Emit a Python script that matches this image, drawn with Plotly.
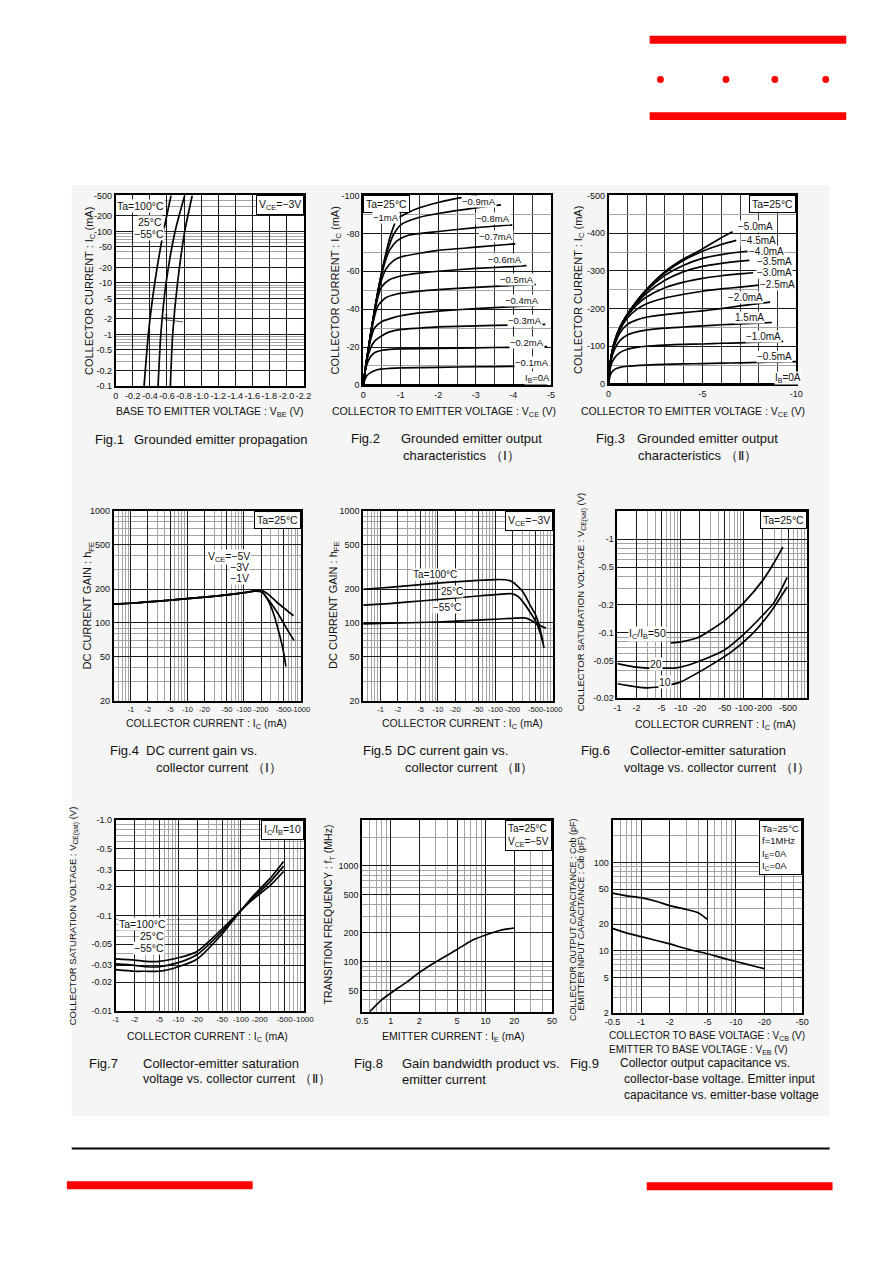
import math
import plotly.graph_objects as go

# page is 892x1263; the browser body keeps an 8px margin, so the figure is kept a
# little smaller than the window and every page position is shifted by that margin
OFF = 8
FW, FH = 860, 1220
FONT = 'Liberation Sans, Arial, sans-serif'
INK = '#111111'

# ---------------- data (magnitudes; the device is PNP, labels carry the sign) ----------------

# Fig.1  grounded emitter propagation : -IC (mA) vs -VBE (V)
F1_IC = [0.1, 1, 10, 100, 500]
F1_VBE_100 = [0.332, 0.382, 0.457, 0.560, 0.648]
F1_VBE_25 = [0.496, 0.528, 0.590, 0.695, 0.808]
F1_VBE_M55 = [0.640, 0.667, 0.724, 0.808, 0.896]

# Fig.2  output characteristics (I) : IB -> (-VCE V, -IC mA)
F2_CURVES = {
    '0mA': ([0, 4.9], [0, 0]),
    '0.1mA': ([0, 0.05, 0.1, 0.2, 0.3, 0.45, 0.7, 1, 2, 3, 4, 4.9],
              [0, 3, 5, 6.5, 7.5, 8.3, 8.7, 9, 9.3, 9.6, 9.8, 10]),
    '0.2mA': ([0, 0.05, 0.1, 0.2, 0.3, 0.5, 0.7, 1, 2, 3, 4, 4.9],
              [0, 7, 11, 15, 17, 18.3, 18.8, 19, 19.3, 19.6, 19.9, 20.2]),
    '0.3mA': ([0, 0.1, 0.2, 0.3, 0.5, 0.7, 1, 1.5, 2, 3, 4, 4.85],
              [0, 13, 19.5, 23, 26, 28, 29.3, 30, 30.6, 31.2, 31.6, 32]),
    '0.4mA': ([0, 0.1, 0.2, 0.3, 0.5, 0.8, 1, 1.5, 2, 3, 4, 4.65],
              [0, 14, 24, 30, 33.5, 35.5, 36.5, 38, 39, 40.3, 41.3, 42]),
    '0.5mA': ([0, 0.1, 0.2, 0.3, 0.4, 0.6, 0.9, 1.5, 2, 3, 4, 4.6],
              [0, 14, 26, 36, 42, 46, 48, 49.5, 50.3, 51.5, 52.5, 53]),
    '0.6mA': ([0, 0.1, 0.2, 0.3, 0.4, 0.5, 0.7, 1, 1.5, 2, 3, 4, 4.35],
              [0, 14, 27, 38, 47, 52, 55.5, 57.5, 59, 60, 61.5, 62.5, 63]),
    '0.7mA': ([0, 0.1, 0.2, 0.3, 0.4, 0.5, 0.6, 0.8, 1, 1.5, 2, 3, 4.05],
              [0, 14, 27, 39, 49, 56, 61, 65.5, 67.5, 69.5, 71, 72.7, 74.5]),
    '0.8mA': ([0, 0.1, 0.2, 0.3, 0.4, 0.5, 0.6, 0.7, 0.9, 1.2, 2, 3, 3.97],
              [0, 14, 27, 39, 50, 59, 66, 71, 76, 79, 81, 83, 84.5]),
    '0.9mA': ([0, 0.1, 0.2, 0.3, 0.4, 0.5, 0.6, 0.7, 0.8, 1, 1.5, 2, 3, 3.67],
              [0, 14, 27, 39, 50, 60, 68, 74, 79, 84.5, 88.5, 90.5, 93.5, 95]),
    '1mA': ([0, 0.1, 0.2, 0.3, 0.4, 0.5, 0.6, 0.7, 0.8, 0.9, 1.2, 1.5, 2, 2.5, 3.06],
            [0, 14, 27, 39, 50, 60, 69, 77, 83, 87.5, 91, 93.5, 96.3, 98.5, 100]),
}

# Fig.3  output characteristics (II) : IB -> (-VCE V, -IC mA)
F3_CURVES = {
    '0mA': ([0, 10], [0, 0]),
    '0.5mA': ([0, 0.1, 0.3, 0.6, 1, 2, 3, 4, 5, 6, 7, 8, 9, 10],
              [0, 25, 38, 44, 47, 50, 52, 53, 54, 55, 56, 57, 58, 59]),
    '1.0mA': ([0, 0.1, 0.3, 0.6, 1, 1.5, 2, 3, 4, 5, 6, 7, 8, 9.3],
              [0, 45, 68, 83, 92, 97, 100, 103, 105, 106, 108, 109, 111, 113]),
    '1.5mA': ([0, 0.1, 0.3, 0.6, 1, 1.5, 2, 3, 4, 5, 6, 7, 8.7],
              [0, 55, 90, 115, 130, 138, 143, 148, 151, 154, 157, 159, 163]),
    '2.0mA': ([0, 0.1, 0.3, 0.6, 1, 1.5, 2, 3, 4, 5, 6, 7, 8.6],
              [0, 58, 100, 135, 158, 170, 177, 184, 189, 194, 200, 207, 217]),
    '2.5mA': ([0, 0.1, 0.3, 0.6, 1, 1.5, 2, 3, 4, 5, 6, 7, 8],
              [0, 59, 105, 143, 175, 198, 212, 228, 238, 246, 252, 257, 262]),
    '3.0mA': ([0, 0.1, 0.3, 0.6, 1, 1.5, 2, 3, 4, 5, 6, 7, 7.7],
              [0, 60, 108, 147, 180, 210, 230, 255, 270, 280, 287, 292, 295]),
    '3.5mA': ([0, 0.1, 0.3, 0.6, 1, 1.5, 2, 3, 4, 5, 6, 7, 7.5],
              [0, 60, 109, 149, 183, 215, 240, 275, 298, 312, 320, 326, 328]),
    '4.0mA': ([0, 0.1, 0.3, 0.6, 1, 1.5, 2, 3, 4, 5, 6, 7, 7.4],
              [0, 60, 110, 150, 185, 218, 246, 288, 315, 333, 343, 350, 352]),
    '4.5mA': ([0, 0.1, 0.3, 0.6, 1, 1.5, 2, 3, 4, 5, 6, 6.8],
              [0, 60, 110, 150, 185, 220, 249, 295, 328, 352, 370, 381]),
    '5.0mA': ([0, 0.1, 0.3, 0.6, 1, 1.5, 2, 3, 4, 5, 6, 6.6],
              [0, 60, 110, 150, 185, 220, 250, 298, 332, 358, 388, 404]),
}

# Fig.4  hFE vs -IC (mA), Ta=25C, common low-current part + per-VCE tails
F4_IC_COMMON = [0.5, 1, 2, 5, 10, 20, 50, 100, 150]
F4_HFE_COMMON = [147, 150, 154, 160, 165, 170, 178, 186, 192]
F4_TAILS = {
    '-5V': ([200, 250, 300, 400, 500, 600, 750], [196, 185, 172, 150, 137, 127, 116]),
    '-3V': ([200, 250, 300, 400, 500, 600, 765], [194, 168, 150, 121, 100, 85, 70]),
    '-1V': ([200, 250, 300, 350, 400, 450, 500, 550], [190, 170, 140, 112, 88, 70, 55, 41]),
}

# Fig.5  hFE vs -IC (mA), VCE=-3V
F5_IC_100 = [0.5, 1, 2, 5, 10, 20, 50, 100, 150, 200, 300, 400, 500, 600, 700]
F5_HFE_100 = [200, 205, 211, 220, 227, 233, 240, 244, 243, 232, 190, 145, 118, 88, 60]
F5_IC_25 = [0.5, 1, 2, 5, 10, 20, 50, 100, 200, 250, 300, 400, 500, 600, 665]
F5_HFE_25 = [144, 147, 151, 157, 162, 167, 174, 179, 182, 172, 155, 125, 104, 82, 68]
F5_IC_M55 = [0.5, 1, 10, 50, 100, 200, 320, 400, 500, 600, 760]
F5_HFE_M55 = [98, 99, 102, 106, 108, 110, 111, 107, 100, 95, 90]

# Fig.6  -VCE(sat) (V) vs -IC (mA), Ta=25C
F6_IC_50 = [7, 10, 20, 50, 100, 200, 300, 414]
F6_V_50 = [0.078, 0.080, 0.091, 0.136, 0.21, 0.365, 0.56, 0.82]
F6_IC_20 = [1, 2, 3, 5, 8, 10, 20, 50, 100, 200, 300, 484]
F6_V_20 = [0.047, 0.043, 0.042, 0.042, 0.042, 0.043, 0.05, 0.066, 0.097, 0.155, 0.21, 0.39]
F6_IC_10 = [1, 2, 3, 6, 10, 25, 64, 131, 267, 484]
F6_V_10 = [0.0286, 0.0265, 0.0259, 0.0274, 0.030, 0.042, 0.063, 0.095, 0.168, 0.308]

# Fig.7  -VCE(sat) (V) vs -IC (mA), IC/IB=10
F7_IC = [1, 2, 3, 5, 10, 20, 50, 80, 150, 300, 480]
F7_V_M55 = [0.035, 0.034, 0.033, 0.033, 0.036, 0.042, 0.072, 0.098, 0.145, 0.21, 0.29]
F7_V_25 = [0.031, 0.030, 0.029, 0.029, 0.032, 0.039, 0.068, 0.096, 0.15, 0.23, 0.33]
F7_V_100 = [0.027, 0.026, 0.026, 0.026, 0.029, 0.035, 0.064, 0.094, 0.155, 0.25, 0.37]

# Fig.8  fT (MHz) vs IE (mA)
F8_IE = [0.6, 0.8, 1, 1.5, 2, 3, 5, 7, 10, 14, 20]
F8_FT = [30, 40, 47, 62, 77, 100, 134, 165, 190, 212, 225]

# Fig.9  Cob / Cib (pF) vs -VCB / -VEB (V)
F9_V_COB = [0.5, 0.7, 1, 1.5, 2, 3, 4, 5]
F9_COB = [45, 42, 40, 36, 32.5, 29.5, 27, 22.7]
F9_V_CIB = [0.5, 0.7, 1, 2, 3, 5, 7, 10, 15, 20]
F9_CIB = [18, 16, 14.5, 12, 10.6, 9.3, 8.4, 7.6, 6.8, 6.3]

# tick labels
F1_XT = [0, 0.2, 0.4, 0.6, 0.8, 1.0, 1.2, 1.4, 1.6, 1.8, 2.0, 2.2]
F1_XL = ['0', '-0.2', '-0.4', '-0.6', '-0.8', '-1.0', '-1.2', '-1.4', '-1.6', '-1.8', '-2.0', '-2.2']
F1_YT = [0.1, 0.2, 0.5, 1, 2, 5, 10, 20, 50, 100, 200, 500]
F1_YL = ['-0.1', '-0.2', '-0.5', '-1', '-2', '-5', '-10', '-20', '-50', '-100', '-200', '-500']
F2_XT = [0, 1, 2, 3, 4, 5]
F2_XL = ['0', '-1', '-2', '-3', '-4', '-5']
F2_YT = [0, 20, 40, 60, 80, 100]
F2_YL = ['0', '-20', '-40', '-60', '-80', '-100']
F3_XT = [0, 5, 10]
F3_XL = ['0', '-5', '-10']
F3_YT = [0, 100, 200, 300, 400, 500]
F3_YL = ['0', '-100', '-200', '-300', '-400', '-500']
IC_T = [1, 2, 5, 10, 20, 50, 100, 200, 500, 1000]
IC_L = ['-1', '-2', '-5', '-10', '-20', '-50', '-100', '-200', '-500', '-1000']
HFE_T = [20, 50, 100, 200, 500, 1000]
HFE_L = ['20', '50', '100', '200', '500', '1000']
F6_XT = [1, 2, 5, 10, 20, 50, 100, 200, 500]
F6_XL = ['-1', '-2', '-5', '-10', '-20', '-50', '-100', '-200', '-500']
F6_YT = [0.02, 0.05, 0.1, 0.2, 0.5, 1]
F6_YL = ['-0.02', '-0.05', '-0.1', '-0.2', '-0.5', '-1']
F7_YT = [0.01, 0.02, 0.03, 0.05, 0.1, 0.2, 0.3, 0.5, 1]
F7_YL = ['-0.01', '-0.02', '-0.03', '-0.05', '-0.1', '-0.2', '-0.3', '-0.5', '-1.0']
F8_XT = [0.5, 1, 2, 5, 10, 20, 50]
F8_XL = ['0.5', '1', '2', '5', '10', '20', '50']
F8_YT = [50, 100, 200, 500, 1000]
F8_YL = ['50', '100', '200', '500', '1000']
F9_XL = ['-0.5', '-1', '-2', '-5', '-10', '-20', '-50']
F9_YT = [2, 5, 10, 20, 50, 100]
F9_YL = ['2', '5', '10', '20', '50', '100']

# plot frames in page pixels: left, right, top, bottom
BOXES = {
    1: (110, 302, 192, 384), 2: (363, 555, 192, 383), 3: (614, 806, 192, 382),
    4: (108, 299, 510, 702), 5: (363, 557, 510, 702), 6: (623, 817, 510, 699),
    7: (110, 302, 822, 1014), 8: (362, 556, 822, 1015), 9: (618, 812, 822, 1016),
}


def PX(x):
    return (x - OFF) / FW


def PY(y):
    return 1 - (y - OFF) / FH


def lg(v):
    return math.log10(v)


def minor_log(lo, hi, skip):
    vals = []
    d = 10 ** math.floor(lg(lo))
    while d <= hi * 1.0001:
        for m in range(1, 10):
            v = m * d
            if lo * 0.9999 <= v <= hi * 1.0001 and all(abs(v - s) > 1e-6 * v for s in skip):
                vals.append(v)
        d *= 10
    return vals


BASE = dict(showline=True, mirror=True, linecolor='black', linewidth=1.8,
            ticks='', showgrid=True, gridcolor='#1a1a1a', gridwidth=1,
            zeroline=False, fixedrange=True, tickmode='array', tickangle=0)
RANGES = {}


def axis(n, which, rng, vals, text, minor=(), log=False, minor_color='#a3a3a3', size=9):
    x0, x1, y0, y1 = BOXES[n]
    if which == 'x':
        domain = [PX(x0), PX(x1)]
        anchor = 'y' if n == 1 else 'y%d' % n
    else:
        domain = [PY(y1), PY(y0)]
        anchor = 'x' if n == 1 else 'x%d' % n
    RANGES[(n, which)] = rng
    d = dict(BASE, domain=domain, anchor=anchor, range=rng, tickvals=vals,
             ticktext=text, type='log' if log else 'linear',
             tickfont=dict(family=FONT, size=size, color=INK))
    if minor:
        d['minor'] = dict(tickmode='array', tickvals=list(minor), showgrid=True,
                          gridcolor=minor_color, gridwidth=1, ticks='')
    return d


def refs(n):
    return ('x', 'y') if n == 1 else ('x%d' % n, 'y%d' % n)


fig = go.Figure()


def curve(n, x, y):
    xr, yr = refs(n)
    fig.add_trace(go.Scatter(x=x, y=y, mode='lines', xaxis=xr, yaxis=yr,
                             line=dict(color='black', width=1.7, shape='spline', smoothing=0.6),
                             hoverinfo='skip', showlegend=False))


# ---------------- traces ----------------
for v in (F1_VBE_100, F1_VBE_25, F1_VBE_M55):
    curve(1, v, F1_IC)
for vx, iy in F2_CURVES.values():
    curve(2, vx, iy)
for vx, iy in F3_CURVES.values():
    curve(3, vx, iy)
for tx, ty in F4_TAILS.values():
    curve(4, F4_IC_COMMON + tx, F4_HFE_COMMON + ty)
curve(5, F5_IC_100, F5_HFE_100)
curve(5, F5_IC_25, F5_HFE_25)
curve(5, F5_IC_M55, F5_HFE_M55)
curve(6, F6_IC_50, F6_V_50)
curve(6, F6_IC_20, F6_V_20)
curve(6, F6_IC_10, F6_V_10)
curve(7, F7_IC, F7_V_M55)
curve(7, F7_IC, F7_V_25)
curve(7, F7_IC, F7_V_100)
curve(8, F8_IE, F8_FT)
curve(9, F9_V_COB, F9_COB)
curve(9, F9_V_CIB, F9_CIB)

# ---------------- axes ----------------
lay = {}
lay['xaxis'] = axis(1, 'x', [0, 2.2], F1_XT, F1_XL)
lay['yaxis'] = axis(1, 'y', [lg(0.1), lg(500)], F1_YT, F1_YL, minor_log(0.1, 500, F1_YT), log=True)
lay['xaxis2'] = axis(2, 'x', [0, 5], F2_XT, F2_XL, [0.5, 1.5, 2.5, 3.5, 4.5], minor_color='#333333')
lay['yaxis2'] = axis(2, 'y', [0, 100], F2_YT, F2_YL, [10, 30, 50, 70, 90])
lay['xaxis3'] = axis(3, 'x', [0, 10], F3_XT, F3_XL, [1, 2, 3, 4, 6, 7, 8, 9], minor_color='#333333')
lay['yaxis3'] = axis(3, 'y', [0, 500], F3_YT, F3_YL, [50, 150, 250, 350, 450])
lay['xaxis4'] = axis(4, 'x', [lg(0.5), 3], IC_T, IC_L, minor_log(0.5, 1000, IC_T), log=True, size=7.5)
lay['yaxis4'] = axis(4, 'y', [lg(20), 3], HFE_T, HFE_L, minor_log(20, 1000, HFE_T), log=True)
lay['xaxis5'] = axis(5, 'x', [lg(0.5), 3], IC_T, IC_L, minor_log(0.5, 1000, IC_T), log=True, size=7.5)
lay['yaxis5'] = axis(5, 'y', [lg(20), 3], HFE_T, HFE_L, minor_log(20, 1000, HFE_T), log=True)
lay['xaxis6'] = axis(6, 'x', [0, 3], F6_XT, F6_XL, minor_log(1, 1000, F6_XT), log=True)
lay['yaxis6'] = axis(6, 'y', [lg(0.02), lg(2)], F6_YT, F6_YL, minor_log(0.02, 2, F6_YT), log=True)
lay['xaxis7'] = axis(7, 'x', [0, 3], IC_T, IC_L, minor_log(1, 1000, IC_T), log=True, size=8)
lay['yaxis7'] = axis(7, 'y', [-2, 0], F7_YT, F7_YL, minor_log(0.01, 1, F7_YT), log=True)
lay['xaxis8'] = axis(8, 'x', [lg(0.5), lg(50)], F8_XT, F8_XL, minor_log(0.5, 50, F8_XT), log=True)
lay['yaxis8'] = axis(8, 'y', [lg(30), lg(3000)], F8_YT, F8_YL, minor_log(30, 3000, F8_YT), log=True)
lay['xaxis9'] = axis(9, 'x', [lg(0.5), lg(50)], F8_XT, F9_XL, minor_log(0.5, 50, F8_XT), log=True)
lay['yaxis9'] = axis(9, 'y', [lg(2), lg(300)], F9_YT, F9_YL, minor_log(2, 300, F9_YT), log=True)

# ---------------- texts and leader lines ----------------
ANN = []
LEADERS = []


def text(x, y, s, size=9, xanchor='left', angle=0, bg=None):
    ANN.append(dict(xref='paper', yref='paper', x=PX(x), y=PY(y), text=s,
                    showarrow=False, xanchor=xanchor, yanchor='middle', textangle=angle,
                    font=dict(family=FONT, size=size, color=INK), bgcolor=bg, borderpad=0))


def box(n, s, left=False, size=10.5):
    xr, yr = refs(n)
    ANN.append(dict(xref=xr + ' domain', yref=yr + ' domain', x=0 if left else 1, y=1,
                    xanchor='left' if left else 'right', yanchor='top', text=s, showarrow=False,
                    align='left', bgcolor='white', bordercolor='black', borderwidth=1, borderpad=2,
                    font=dict(family=FONT, size=size, color=INK)))


def leader(n, x, y, tx, ty):
    # thin line from a curve point (axis units) to the label end at page pixel (tx, ty)
    x0, x1, y0, y1 = BOXES[n]
    rx, ry = RANGES[(n, 'x')], RANGES[(n, 'y')]
    ax = rx[0] + (tx - x0) / (x1 - x0) * (rx[1] - rx[0])
    ay = ry[1] - (ty - y0) / (y1 - y0) * (ry[1] - ry[0])
    xr, yr = refs(n)
    LEADERS.append(dict(type='line', xref=xr, yref=yr, x0=x, y0=y, x1=ax, y1=ay,
                        line=dict(color=INK, width=0.7)))


IC_TITLE = 'COLLECTOR CURRENT : I<sub>C</sub> (mA)'
VCE_TITLE = 'COLLECTOR TO EMITTER VOLTAGE : V<sub>CE</sub> (V)'
SAT_TITLE = 'COLLECTOR SATURATION VOLTAGE : V<sub>CE(sat)</sub> (V)'
HFE_TITLE = 'DC CURRENT GAIN : h<sub>FE</sub>'
XT, YT, CAP = 10.5, 11, 13

# Fig.1
text(206, 410, 'BASE TO EMITTER VOLTAGE : V<sub>BE</sub> (V)', XT, 'center')
text(83, 288, IC_TITLE, YT, 'center', -90)
box(1, 'V<sub>CE</sub>=−3V')
text(160, 203, 'Ta=100°C', 10.5, 'right', bg='white')
text(158, 219, '25°C', 10.5, 'right', bg='white')
text(160, 231, '−55°C', 10.5, 'right', bg='white')
leader(1, 0.607, lg(200), 160, 206)
leader(1, 0.70, lg(106), 158, 220)
leader(1, 0.787, lg(57), 160, 232)
text(88, 438, 'Fig.1', CAP)
text(128, 438, 'Grounded emitter propagation', CAP)

# Fig.2
text(446, 410, VCE_TITLE, XT, 'center')
text(335, 288, IC_TITLE, YT, 'center', -90)
box(2, 'Ta=25°C', left=True)
for s, x, y in [('−0.9mA', 463, 198), ('−1mA', 372, 214), ('−0.8mA', 477, 215),
                ('−0.7mA', 480, 233), ('−0.6mA', 490, 257), ('−0.5mA', 502, 277),
                ('−0.4mA', 507, 298), ('−0.3mA', 510, 318), ('−0.2mA', 512, 340),
                ('−0.1mA', 517, 360), ('I<sub>B</sub>=0A', 527, 376)]:
    text(x, y, s, 9.5, bg='white')
text(350, 437, 'Fig.2', CAP)
text(401, 437, 'Grounded emitter output', CAP)
text(403, 454, 'characteristics （Ⅰ）', CAP)

# Fig.3
text(700, 410, VCE_TITLE, XT, 'center')
text(583, 287, IC_TITLE, YT, 'center', -90)
box(3, 'Ta=25°C')
for s, x, y in [('−5.0mA', 745, 223), ('−4.5mA', 748, 237), ('−4.0mA', 757, 248),
                ('−3.5mA', 765, 259), ('−3.0mA', 765, 270), ('−2.5mA', 768, 282),
                ('−2.0mA', 735, 295), ('1.5mA', 742, 315), ('−1.0mA', 753, 334),
                ('−0.5mA', 765, 354), ('I<sub>B</sub>=0A', 783, 376)]:
    text(x, y, s, 10, bg='white')
text(600, 437, 'Fig.3', CAP)
text(642, 437, 'Grounded emitter output', CAP)
text(643, 454, 'characteristics （Ⅱ）', CAP)

# Fig.4
text(203, 725, IC_TITLE, XT, 'center')
text(82, 605, HFE_TITLE, YT, 'center', -90)
box(4, 'Ta=25°C')
text(248, 556, 'V<sub>CE</sub>=−5V', 10.5, 'right', bg='white')
text(247, 567, '−3V', 10.5, 'right', bg='white')
text(247, 578, '−1V', 10.5, 'right', bg='white')
leader(4, lg(469), lg(142), 248, 556)
leader(4, lg(354), lg(134), 247, 567)
leader(4, lg(258), lg(165), 247, 578)
text(103, 752, 'Fig.4', CAP)
text(140, 752, 'DC current gain vs.', CAP)
text(150, 769, 'collector current （Ⅰ）', CAP)

# Fig.5
text(465, 725, IC_TITLE, XT, 'center')
text(333, 605, HFE_TITLE, YT, 'center', -90)
box(5, 'V<sub>CE</sub>=−3V')
text(413, 574, 'Ta=100°C', 10, bg='white')
text(442, 591, '25°C', 10, bg='white')
text(433, 607, '−55°C', 10, bg='white')
text(362, 752, 'Fig.5', CAP)
text(397, 752, 'DC current gain vs.', CAP)
text(405, 769, 'collector current （Ⅱ）', CAP)

# Fig.6
text(723, 726, IC_TITLE, XT, 'center')
text(586, 602, SAT_TITLE, 9.5, 'center', -90)
box(6, 'Ta=25°C')
text(634, 634, 'I<sub>C</sub>/I<sub>B</sub>=50', 10.5, bg='white')
text(655, 664, '20', 10.5, bg='white')
text(665, 683, '10', 10.5, bg='white')
text(585, 752, 'Fig.6', CAP)
text(635, 752, 'Collector-emitter saturation', CAP)
text(629, 769, 'voltage vs. collector current （Ⅰ）', 12.5)

# Fig.7
text(204, 1040, IC_TITLE, XT, 'center')
text(67, 918, SAT_TITLE, 9.5, 'center', -90)
box(7, 'I<sub>C</sub>/I<sub>B</sub>=10')
text(162, 927, 'Ta=100°C', 10.5, 'right', bg='white')
text(160, 939, '25°C', 10.5, 'right', bg='white')
text(160, 951, '−55°C', 10.5, 'right', bg='white')
leader(7, lg(30), lg(0.045), 162, 927)
leader(7, lg(20), lg(0.039), 160, 939)
leader(7, lg(12), lg(0.038), 160, 951)
text(82, 1067, 'Fig.7', CAP)
text(137, 1067, 'Collector-emitter saturation', CAP)
text(137, 1083, 'voltage vs. collector current （Ⅱ）', 12.5)

# Fig.8
text(455, 1040, 'EMITTER CURRENT : I<sub>E</sub> (mA)', XT, 'center')
text(328, 917, 'TRANSITION FREQUENCY : f<sub>T</sub> (MHz)', 10.5, 'center', -90)
box(8, 'Ta=25°C<br>V<sub>CE</sub>=−5V', size=10)
text(353, 1067, 'Fig.8', CAP)
text(402, 1067, 'Gain bandwidth product vs.', CAP)
text(402, 1083, 'emitter current', CAP)

# Fig.9
text(613, 1039, 'COLLECTOR TO BASE VOLTAGE : V<sub>CB</sub> (V)', 10)
text(613, 1054, 'EMITTER TO BASE VOLTAGE : V<sub>EB</sub> (V)', 10)
text(577, 922, 'COLLECTOR OUTPUT CAPACITANCE : Cob (pF)', 9, 'center', -90)
text(586, 926, 'EMITTER INPUT CAPACITANCE : Cib (pF)', 9, 'center', -90)
box(9, 'Ta=25°C<br>f=1MHz<br>I<sub>E</sub>=0A<br>I<sub>C</sub>=0A', size=9.5)
text(573, 1067, 'Fig.9', CAP)
text(625, 1067, 'Collector output capacitance vs.', 12)
text(629, 1083, 'collector-base voltage. Emitter input', 12)
text(629, 1099, 'capacitance vs. emitter-base voltage', 12)

# ---------------- page decoration ----------------


def prect(x0, y0, x1, y1, color, layer='above'):
    return dict(type='rect', xref='paper', yref='paper', x0=PX(x0), x1=PX(x1),
                y0=PY(y1), y1=PY(y0), fillcolor=color, line_width=0, layer=layer)


SHAPES = [prect(65, 182, 840, 1120, '#f5f5f5', 'below')]
for n, (x0, x1, y0, y1) in BOXES.items():
    SHAPES.append(prect(x0, y0, x1, y1, 'white', 'below'))
SHAPES += [prect(656, 31, 857, 39, '#ff0000'), prect(656, 108, 857, 116, '#ff0000'),
           prect(65, 1152, 840, 1154, '#000000'),
           prect(60, 1186, 250, 1194, '#ff0000'), prect(653, 1187, 843, 1195, '#ff0000')]
for cx in (667, 734, 784, 836):
    SHAPES.append(dict(type='circle', xref='paper', yref='paper', x0=PX(cx - 3.5), x1=PX(cx + 3.5),
                       y0=PY(78.5), y1=PY(71.5), fillcolor='#ff0000', line_width=0))
SHAPES += LEADERS

fig.update_layout(
    width=FW, height=FH, margin=dict(l=0, r=0, t=0, b=0),
    paper_bgcolor='white', plot_bgcolor='rgba(0,0,0,0)',
    showlegend=False, annotations=ANN, shapes=SHAPES,
    font=dict(family=FONT, color=INK), **lay
)

fig.write_html('out.html')
